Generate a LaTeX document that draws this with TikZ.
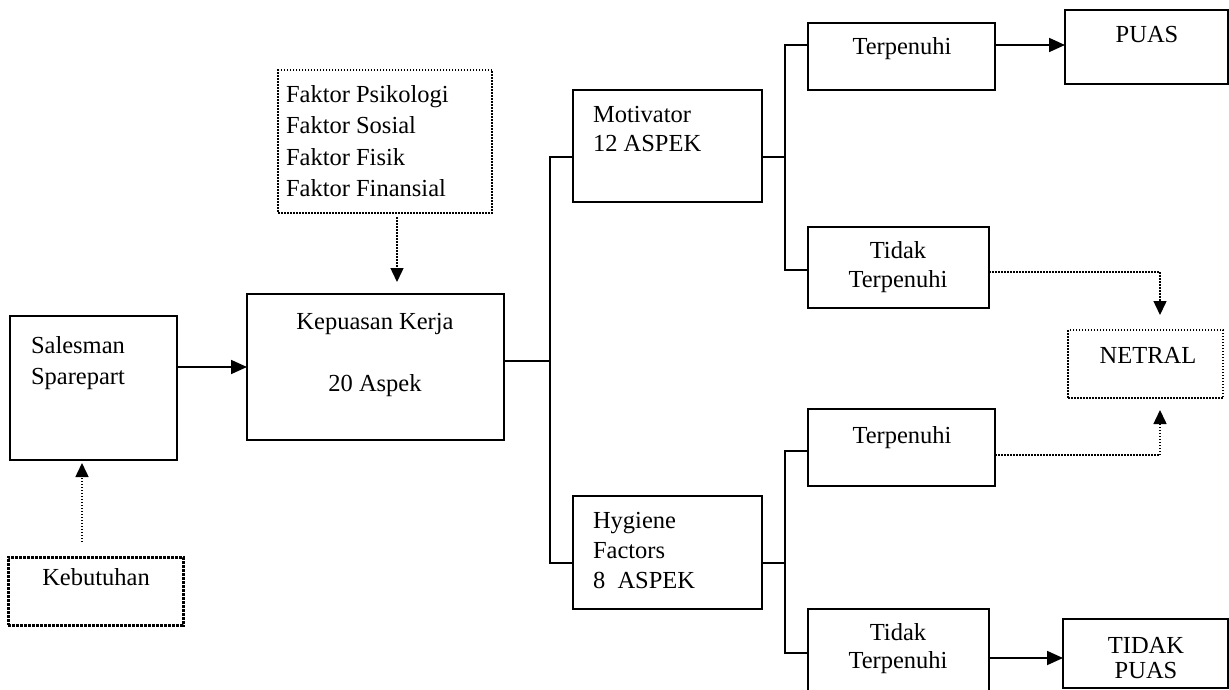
\documentclass[tikz,border=0pt]{standalone}
\usepackage{fontspec}
\setmainfont{Liberation Serif}
\usetikzlibrary{arrows.meta}
\newcommand\fsz{\fontsize{24.5}{29.5}\selectfont}
\begin{document}
\begin{tikzpicture}[x=1pt,y=-1pt,
  box/.style={draw, line width=1.8, rectangle, inner sep=0, outer sep=0},
  dbox/.style={draw, line width=1.5, dash pattern=on 1.5pt off 1.5pt, rectangle, inner sep=0, outer sep=0},
  kbox/.style={draw, line width=3, dash pattern=on 3pt off 1pt, rectangle, inner sep=0, outer sep=0},
  txt/.style={inner sep=0, outer sep=0, font=\fsz},
  conn/.style={line width=1.8},
  arr/.style={line width=1.8, -{Triangle[length=16pt,width=14pt]}},
  darr/.style={line width=1.5, dash pattern=on 1.5pt off 1.5pt, -{Triangle[length=14pt,width=13pt]}}]
\useasboundingbox (0,0) rectangle (1229,690);
% boxes
\node[box, minimum width=167, minimum height=144] (sales) at (93.5,388) {};
\node[kbox, minimum width=175, minimum height=68] (keb) at (95.5,591) {};
\node[dbox, minimum width=214, minimum height=143] (fak) at (385,141.5) {};
\node[box, minimum width=257, minimum height=146] (kep) at (375.5,367) {};
\node[box, minimum width=189, minimum height=112] (mot) at (667.5,146) {};
\node[box, minimum width=189, minimum height=113] (hyg) at (667.5,552.5) {};
\node[box, minimum width=187, minimum height=67] (t1) at (901.5,56.5) {};
\node[box, minimum width=181, minimum height=81] (tt1) at (898.5,267.5) {};
\node[box, minimum width=187, minimum height=77] (t2) at (901.5,447.5) {};
\node[box, minimum width=181, minimum height=83] (tt2) at (898.5,650.5) {};
\node[box, minimum width=163, minimum height=74] (puas) at (1146.5,47) {};
\node[dbox, minimum width=155, minimum height=68] (netral) at (1145.5,364) {};
\node[box, minimum width=165, minimum height=69] (tp) at (1145.5,653.5) {};
% texts
\node[txt, anchor=base west] (salesA) at (31,353) {Salesman};
\node[txt, anchor=base west] (salesB) at (31,384) {Sparepart};
\node[txt, anchor=base] (kebA) at (96,585) {Kebutuhan};
\node[txt, anchor=base west] (fakA) at (286,103) {Faktor Psikologi};
\node[txt, anchor=base west] (fakB) at (286,134) {Faktor Sosial};
\node[txt, anchor=base west] (fakC) at (286,165) {Faktor Fisik};
\node[txt, anchor=base west] (fakD) at (286,196) {Faktor Finansial};
\node[txt, anchor=base] (kepA) at (375,329) {Kepuasan Kerja};
\node[txt, anchor=base] (kepB) at (375,391) {20 Aspek};
\node[txt, anchor=base west] (motA) at (593,123) {Motivator};
\node[txt, anchor=base west] (motB) at (593,152) {12 ASPEK};
\node[txt, anchor=base west] (hygA) at (593,528) {Hygiene};
\node[txt, anchor=base west] (hygB) at (593,558) {Factors};
\node[txt, anchor=base west] (hygC) at (593,588) {8\ \ ASPEK};
\node[txt, anchor=base] (t1A) at (902,55) {Terpenuhi};
\node[txt, anchor=base] (puasA) at (1147,43) {PUAS};
\node[txt, anchor=base] (tt1A) at (898,258) {Tidak};
\node[txt, anchor=base] (tt1B) at (898,287) {Terpenuhi};
\node[txt, anchor=base] (t2A) at (902,443) {Terpenuhi};
\node[txt, anchor=base] (netA) at (1148,363) {NETRAL};
\node[txt, anchor=base] (tt2A) at (898,640) {Tidak};
\node[txt, anchor=base] (tt2B) at (898,668) {Terpenuhi};
\node[txt, anchor=base] (tpA) at (1146,653) {TIDAK};
\node[txt, anchor=base] (tpB) at (1146,678) {PUAS};
% junction coordinates
\coordinate (jL) at (550,361);
\coordinate (mL) at (550,157);
\coordinate (hL) at (550,563);
\coordinate (mR) at (785,157);
\coordinate (tA) at (785,45);
\coordinate (tB) at (785,270);
\coordinate (hR) at (785,563);
\coordinate (tC) at (785,451);
\coordinate (tD) at (785,653);
\coordinate (yTP) at (1000,658);
\coordinate (nA) at (1160,272);
\coordinate (nB) at (1160,455);
\coordinate (fA) at (397,250);
\coordinate (kA) at (82,500);
% connectors
\draw[arr] (sales.east |- kep.west) -- (kep.west);
\draw[conn] (kep.east |- jL) -- (jL);
\draw[conn] (mot.west |- mL) -- (mL) -- (hL) -- (hyg.west |- hL);
\draw[conn] (mot.east |- mR) -- (mR);
\draw[conn] (t1.west |- tA) -- (tA) -- (tB) -- (tt1.west |- tB);
\draw[conn] (hyg.east |- hR) -- (hR);
\draw[conn] (t2.west |- tC) -- (tC) -- (tD) -- (tt2.west |- tD);
\draw[arr] (t1.east |- tA) -- (puas.west |- tA);
\draw[arr] (tt2.east |- yTP) -- (tp.west |- yTP);
\draw[darr, shorten >=15] (tt1.east |- nA) -- (nA) -- (netral.north -| nA);
\draw[darr, shorten >=12] (t2.east |- nB) -- (nB) -- (netral.south -| nB);
\draw[darr, shorten <=4, shorten >=12] (fak.south -| fA) -- (kep.north -| fA);
\draw[darr, shorten <=15, shorten >=3] (keb.north -| kA) -- (sales.south -| kA);
\end{tikzpicture}
\end{document}
